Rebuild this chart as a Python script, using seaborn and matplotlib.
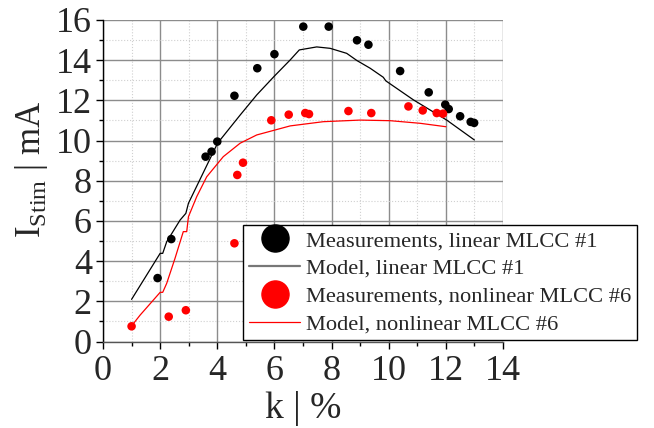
import numpy as np
import pandas as pd
import matplotlib
matplotlib.use("Agg")
import matplotlib.pyplot as plt
from matplotlib.ticker import MultipleLocator
from matplotlib.lines import Line2D
import seaborn as sns

# measured points, linear MLCC #1
lin_meas_k = [1.91, 2.39, 3.59, 3.80, 4.00, 4.60, 5.40, 6.00, 7.01, 7.90, 8.89,
              9.29, 10.40, 11.40, 11.98, 12.10, 12.50, 12.87, 12.99]
lin_meas_i = [3.16, 5.10, 9.20, 9.45, 9.95, 12.23, 13.60, 14.30, 15.67, 15.67, 14.99,
              14.77, 13.46, 12.40, 11.79, 11.57, 11.21, 10.93, 10.88]

# measured points, nonlinear MLCC #6
nonlin_meas_k = [1.00, 2.30, 2.90, 4.60, 4.70, 4.90, 5.89, 6.50, 7.08, 7.21, 8.59,
                 9.39, 10.69, 11.19, 11.68, 11.90]
nonlin_meas_i = [0.76, 1.24, 1.56, 4.89, 8.29, 8.90, 11.01, 11.29, 11.37, 11.32, 11.47,
                 11.37, 11.70, 11.50, 11.37, 11.34]

# model curves
lin_model_k = [1.0, 2.0, 2.09, 2.23, 2.7, 2.9, 2.99, 4.01, 4.80, 5.38, 6.0, 6.55, 6.87,
               7.48, 7.95, 8.53, 8.89, 9.35, 9.81, 9.9, 10.86, 12.03, 13.0]
lin_model_i = [2.1, 4.39, 4.39, 4.97, 6.05, 6.38, 6.88, 9.87, 11.27, 12.27, 13.21, 14.01, 14.51,
               14.66, 14.59, 14.34, 13.98, 13.6, 13.15, 12.97, 12.03, 11.02, 10.03]

nonlin_model_k = [1.0, 1.3, 2.0, 2.09, 2.23, 2.52, 2.81, 2.93, 2.99, 3.28, 3.63, 4.21,
                  4.8, 5.38, 6.55, 7.71, 9.0, 10.05, 11.1, 12.0]
nonlin_model_i = [0.78, 1.32, 2.45, 2.45, 2.9, 4.14, 5.47, 5.47, 6.21, 7.21, 8.2, 9.2,
                  9.87, 10.28, 10.73, 10.94, 11.02, 10.99, 10.86, 10.69]

labels = ["Measurements, linear MLCC #1", "Model, linear MLCC #1",
          "Measurements, nonlinear MLCC #6", "Model, nonlinear MLCC #6"]

sns.set_style("white")
plt.rcParams['font.family'] = ['Liberation Serif', 'DejaVu Serif']
plt.rcParams['mathtext.fontset'] = 'custom'
plt.rcParams['mathtext.rm'] = 'Liberation Serif'

fig = plt.figure(figsize=(6.54, 4.28), dpi=100)
ax = fig.add_axes([0.1575, 0.2019, 0.6116, 0.7514])

ax.set_axisbelow(True)
ax.grid(which='major', color='#8c8c8c', linewidth=1.0, linestyle='-')
ax.grid(which='minor', color='#d0d0d0', linewidth=0.8, linestyle=':')

sns.lineplot(x=lin_model_k, y=lin_model_i, ax=ax, color='black', linewidth=0.9,
             estimator=None, sort=False, zorder=3)
sns.lineplot(x=nonlin_model_k, y=nonlin_model_i, ax=ax, color='#ff0000', linewidth=0.9,
             estimator=None, sort=False, zorder=3)
sns.scatterplot(x=lin_meas_k, y=lin_meas_i, ax=ax, color='black', s=38,
                edgecolor='none', zorder=4)
sns.scatterplot(x=nonlin_meas_k, y=nonlin_meas_i, ax=ax, color='#ff0000', s=38,
                edgecolor='none', zorder=4)

ax.set_xlim(0, 14)
ax.set_ylim(0, 16)
ax.xaxis.set_major_locator(MultipleLocator(2))
ax.xaxis.set_minor_locator(MultipleLocator(1))
ax.yaxis.set_major_locator(MultipleLocator(2))
ax.yaxis.set_minor_locator(MultipleLocator(1))

for side in ['top', 'right']:
    ax.spines[side].set_visible(False)
ax.spines['left'].set_color('black')
ax.spines['bottom'].set_color('#555555')
ax.spines['left'].set_linewidth(1.0)
ax.spines['bottom'].set_linewidth(1.0)

ax.tick_params(axis='both', which='major', direction='out', length=5, width=1,
               labelsize=26, color='black', bottom=True, left=True)
ax.tick_params(axis='x', which='major', pad=5)
ax.tick_params(axis='y', which='major', pad=3)
ax.tick_params(axis='both', which='minor', direction='out', length=3, width=1,
               color='black', bottom=True, left=True)

ax.set_xlabel('k | %', fontsize=27, labelpad=2)
ax.set_ylabel(r'I$_{\mathrm{Stim}}$ | mA', fontsize=25)
ax.yaxis.set_label_coords(-0.133, 0.535)

handles = [
    Line2D([], [], linestyle='none', marker='o', markersize=19.5, color='black'),
    Line2D([], [], color='#777777', linewidth=1.6),
    Line2D([], [], linestyle='none', marker='o', markersize=19.5, color='#ff0000'),
    Line2D([], [], color='#ff0000', linewidth=0.9),
]
leg = fig.legend(handles, labels, loc='upper left', bbox_to_anchor=(0.3716, 0.4745),
                 fontsize=16.2, frameon=True, fancybox=False, framealpha=1,
                 edgecolor='black', borderpad=0.25, labelspacing=0.31,
                 handlelength=2.3, handletextpad=0.27, borderaxespad=0)
leg.get_frame().set_linewidth(1.0)

fig.savefig('out.png', dpi=100)
